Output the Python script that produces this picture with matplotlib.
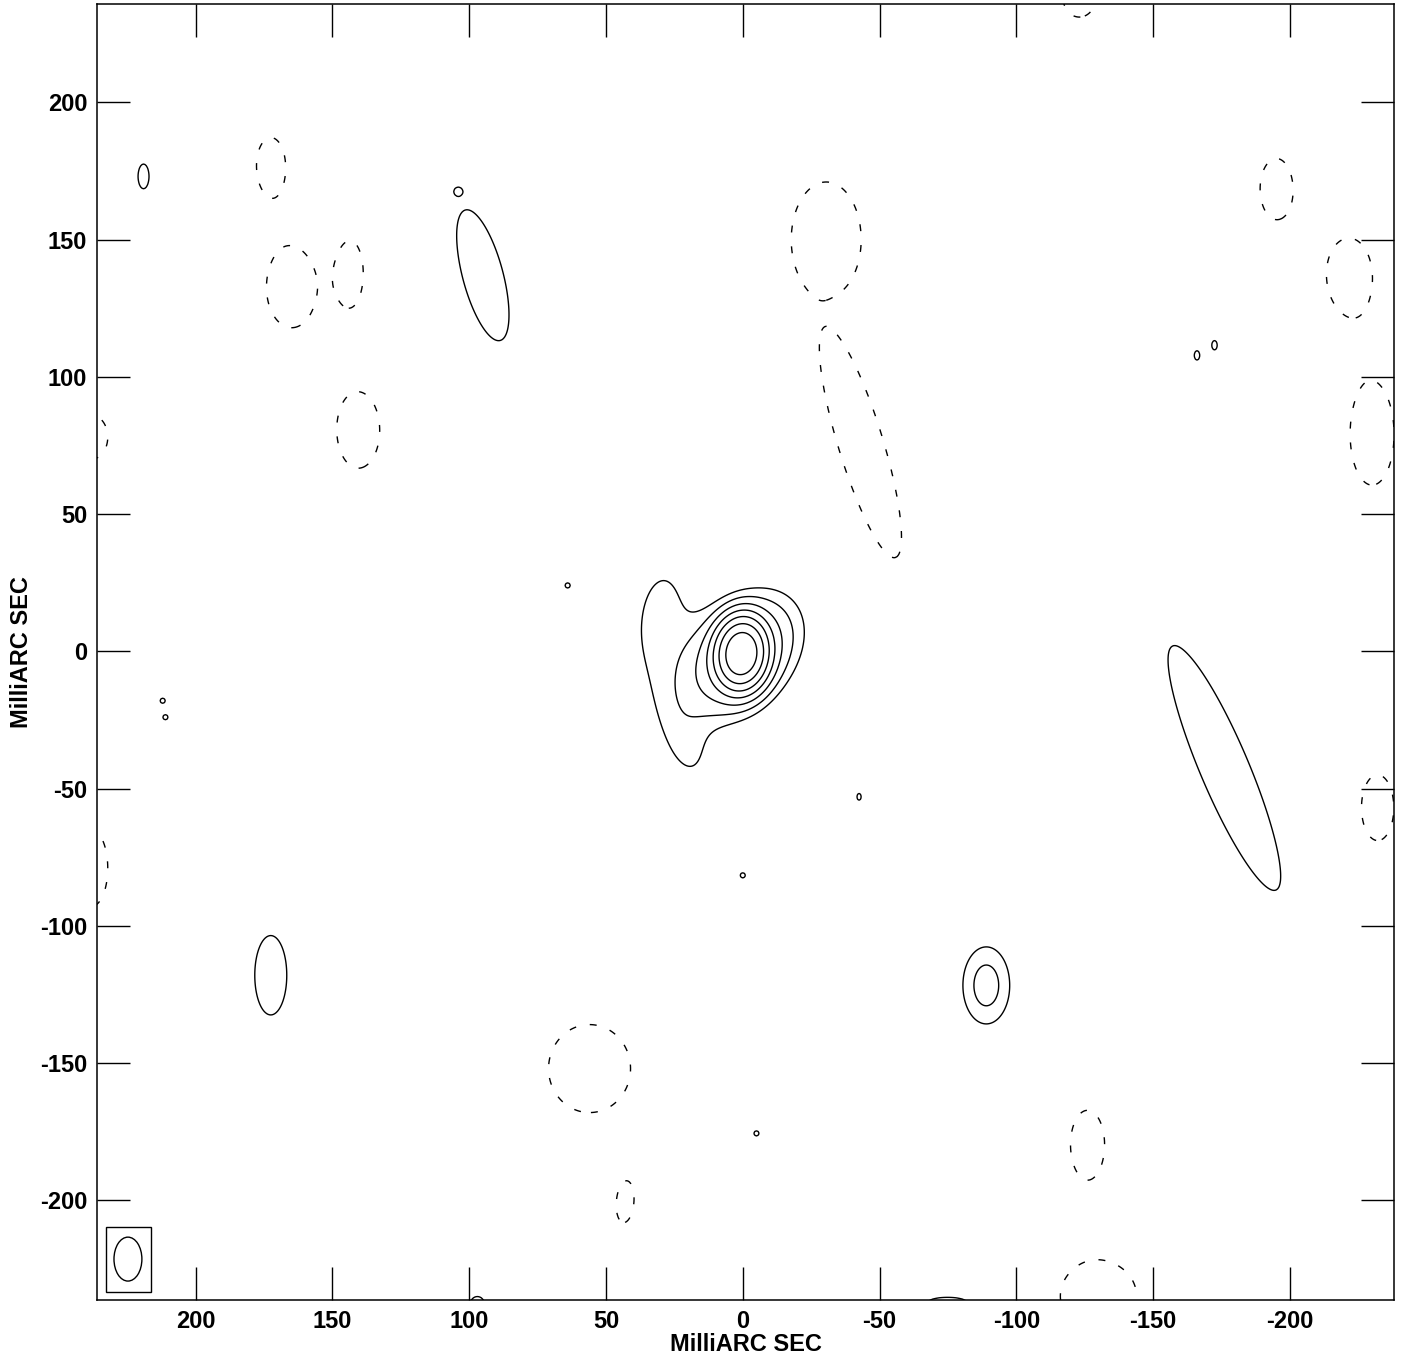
import numpy as np
import matplotlib
matplotlib.use("Agg")
import matplotlib.pyplot as plt
from matplotlib.patches import Ellipse, Rectangle

plt.rcParams['font.family'] = ['Liberation Sans', 'DejaVu Sans']

# Gaussian model components (mas, relative flux, FWHM in mas,
# angle of major axis in degrees from +x in data coordinates)
comp_x = [0.5, 1.5, 30, 21, -89, 95, -176, 172.5, 219, -166, -172.4,
          64, 0, -5, -42.5, -233, 212, 211, 104, 97, -75]
comp_y = [-0.8, -2, 11, -33, -121.7, 137, -42.5, -118, 173, 107.8, 111.5,
          24, -81.6, -175.6, -53, 109, -18, -24, 167.5, -237.5, -237]
comp_peak = [120, 9, 1.3, 1.2, 2.62, 1.3, 1.3, 1.3, 1.3, 1.25, 1.25,
             1.3, 1.3, 1.3, 1.3, 1.3, 1.3, 1.3, 1.1, 1.3, 1.25]
comp_major = [14.8, 32, 48, 32, 23.8, 80, 157, 47, 14.6, 6, 6,
              3, 3, 3, 4, 3, 3, 3, 2, 8, 25]
comp_minor = [10.8, 22, 22, 16, 14.5, 24, 29, 19, 6.5, 3.5, 3.5,
              3, 3, 3, 2.5, 3, 3, 3, 2, 8, 6]
comp_angle = [95, 132, 95, 75, 90, 75, 67, 90, 90, 90, 90,
              0, 0, 0, 90, 0, 0, 0, 0, 0, 0]

# negative (dashed) sidelobe patches
neg_x = [165, 172.5, 143, 140.5, 238, 238, 56, 43, -30.5, -43, -123,
         -195, -221.5, -230, -232, -126, -130]
neg_y = [132.6, 177.5, 138, 80.5, 78, -79, -152, -201, 150, 76, 238,
         168.5, 137.5, 79, -57, -179.6, -235]
neg_peak = [-1.4, -1.4, -1.4, -1.4, -1.4, -1.4, -1.4, -1.4, -10, -10, -1.4,
            -1.4, -1.4, -1.4, -1.4, -1.4, -1.4]
neg_major = [42, 27.3, 28, 39.6, 23, 40, 46, 20, 23, 48, 20,
             31.6, 37, 53, 34.5, 35.6, 40]
neg_minor = [26, 14.3, 11, 22.4, 17, 17, 43, 8.6, 14, 9, 17,
             17, 23, 23, 17, 17.8, 37]
neg_angle = [90, 90, 90, 90, 90, 90, 90, 95, 90, 73, 90,
             90, 90, 90, 90, 90, 0]

pos_levels = [1, 2, 4, 8, 16, 32, 64]
neg_levels = [-1]

beam_major = 16.0
beam_minor = 10.2
beam_pa = 0.0

xticks = [200, 150, 100, 50, 0, -50, -100, -150, -200]
yticks = [200, 150, 100, 50, 0, -50, -100, -150, -200]

# build the model image
gx = np.arange(-245, 245.01, 0.5)
X, Y = np.meshgrid(gx, gx)
img = np.zeros_like(X)
allx = comp_x + neg_x
ally = comp_y + neg_y
allp = comp_peak + neg_peak
allmaj = comp_major + neg_major
allmin = comp_minor + neg_minor
allang = comp_angle + neg_angle
for x0, y0, a, fmaj, fmin, ang in zip(allx, ally, allp, allmaj, allmin, allang):
    t = np.deg2rad(ang)
    dx = X - x0
    dy = Y - y0
    u = dx * np.cos(t) + dy * np.sin(t)
    v = -dx * np.sin(t) + dy * np.cos(t)
    su = fmaj / 2.3548
    sv = fmin / 2.3548
    img += a * np.exp(-(u ** 2 / (2 * su ** 2) + v ** 2 / (2 * sv ** 2)))

fig = plt.figure(figsize=(14.02, 13.57), dpi=100)
ax = fig.add_axes([0.0692, 0.0420, 0.9943 - 0.0692, 0.99705 - 0.0420])

ax.contour(X, Y, img, levels=pos_levels, colors='k', linewidths=1.0)
ax.contour(X, Y, img, levels=neg_levels, colors='k', linewidths=1.0,
           linestyles=[(0, (5, 10))])

# beam
ax.add_patch(Rectangle((216.3, -233.4), 16.4, 23.7,
                       fill=False, edgecolor='k', linewidth=1.0))
ax.add_patch(Ellipse((224.7, -221.4), beam_minor, beam_major, angle=beam_pa,
                     fill=False, edgecolor='k', linewidth=1.0))

ax.set_xlim(236, -238)
ax.set_ylim(-236.3, 235.8)
ax.set_xticks(xticks)
ax.set_yticks(yticks)
ax.set_xticklabels([str(t) for t in xticks])
ax.set_yticklabels([str(t) for t in yticks])
ax.tick_params(direction='in', length=23.5, width=1.0, top=True, right=True,
               labelsize=17, pad=7)
for lab in ax.get_xticklabels() + ax.get_yticklabels():
    lab.set_fontweight('bold')
for sp in ax.spines.values():
    sp.set_linewidth(1.1)

ax.set_xlabel('MilliARC SEC', fontsize=17, fontweight='bold', labelpad=0)
ax.set_ylabel('MilliARC SEC', fontsize=17, fontweight='bold', labelpad=5)

fig.savefig('out.png', dpi=100)
